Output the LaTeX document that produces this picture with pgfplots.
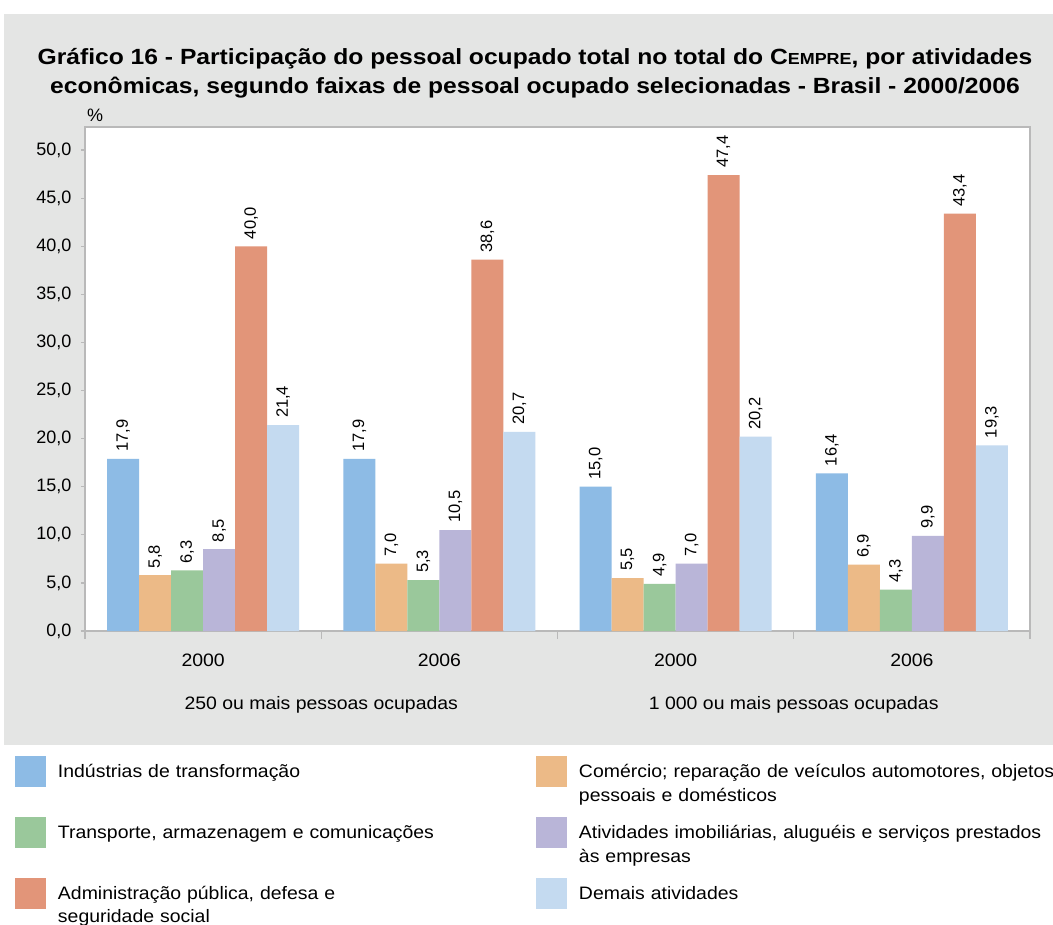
\documentclass[border=0pt]{standalone}
\usepackage{fontspec}
\setmainfont{Liberation Sans}
\newfontfamily\widefont{Liberation Sans}[FakeStretch=1.08]
\newfontfamily\titlefont{Liberation Sans}[FakeStretch=1.12]
\usepackage{pgfplots}
\pgfplotsset{compat=1.18}
\definecolor{cA}{RGB}{141,187,229}
\definecolor{cB}{RGB}{236,186,135}
\definecolor{cC}{RGB}{154,200,155}
\definecolor{cD}{RGB}{185,181,216}
\definecolor{cE}{RGB}{226,149,121}
\definecolor{cF}{RGB}{196,218,240}
\definecolor{bg}{RGB}{228,229,228}
\definecolor{axgray}{RGB}{185,185,185}
\begin{document}
\begin{tikzpicture}
\path[use as bounding box] (0pt,0pt) rectangle (1053pt,-925pt);
\fill[white] (0pt,0pt) rectangle (1053pt,-925pt);
\fill[bg] (4pt,-14pt) rectangle (1053pt,-745pt);
\node[align=center, font=\titlefont\fontsize{22}{29}\selectfont\bfseries, inner sep=0pt] at (535pt,-73pt)
 {Gráfico 16 - Participação do pessoal ocupado total no total do C{\fontsize{16}{29}\selectfont EMPRE}, por atividades\\
  econômicas, segundo faixas de pessoal ocupado selecionadas - Brasil - 2000/2006};
\begin{axis}[
  at={(85pt,-631pt)}, anchor=south west,
  scale only axis, width=945pt, height=504pt,
  axis background/.style={fill=white},
  xmin=-0.5, xmax=3.5, ymin=0, ymax=52.4,
  clip=false,
  ybar=0pt, bar width=32pt,
  axis line style={axgray, line width=1.3pt},
  tick style={axgray, line width=1.2pt},
  tick align=outside,
  ytick pos=left, xtick pos=bottom,
  ytick={0,5,...,50},
  major tick length=4pt,
  yticklabel={\pgfmathprintnumber[fixed,fixed zerofill,precision=1,use comma,assume math mode=true]{\tick}},
  yticklabel style={inner sep=0pt, xshift=-9.5pt},
  tick label style={font=\fontsize{18}{20}\selectfont, text=black},
  xtick=\empty,
  extra x ticks={-0.5,0.5,1.5,2.5,3.5},
  extra x tick labels={},
  extra x tick style={major tick length=8pt},
  nodes near coords={\pgfmathprintnumber[fixed,fixed zerofill,precision=1,use comma,assume math mode=true]{\pgfplotspointmeta}},
  every node near coord/.append style={rotate=90, anchor=west, inner xsep=7pt, inner ysep=0pt, font=\fontsize{16.5}{18}\selectfont, text=black},
  legend style={at={(-0.0741,-0.248)}, anchor=north west, draw=none, fill=none,
    inner sep=0pt, outer sep=0pt,
    legend columns=2, row sep=30pt, column sep=0pt,
    font=\widefont\fontsize{18}{24}\selectfont,
    /tikz/every odd column/.append style={column sep=10pt},
    /tikz/every even column/.append style={column sep=36pt},
    cells={anchor=base west, text width=440pt, align=left, inner sep=0pt},
  },
  legend image code/.code={\path[#1,draw=none] (0pt,-10pt) rectangle (31pt,21pt);},
]
\addplot[fill=cA, draw=none] coordinates {(0,17.9) (1,17.9) (2,15.0) (3,16.4)};
\addlegendentry{\mbox{Indústrias de transformação}}
\addplot[fill=cB, draw=none] coordinates {(0,5.8) (1,7.0) (2,5.5) (3,6.9)};
\addlegendentry{\mbox{Comércio; reparação de veículos automotores, objetos}\\\mbox{pessoais e domésticos}}
\addplot[fill=cC, draw=none] coordinates {(0,6.3) (1,5.3) (2,4.9) (3,4.3)};
\addlegendentry{\mbox{Transporte, armazenagem e comunicações}}
\addplot[fill=cD, draw=none] coordinates {(0,8.5) (1,10.5) (2,7.0) (3,9.9)};
\addlegendentry{\mbox{Atividades imobiliárias, aluguéis e serviços prestados}\\\mbox{às empresas}}
\addplot[fill=cE, draw=none] coordinates {(0,40.0) (1,38.6) (2,47.4) (3,43.4)};
\addlegendentry{\mbox{Administração pública, defesa e}\\\mbox{seguridade social}}
\addplot[fill=cF, draw=none] coordinates {(0,21.4) (1,20.7) (2,20.2) (3,19.3)};
\addlegendentry{\mbox{Demais atividades}}
\foreach \xx/\yy in {0/2000,1/2006,2/2000,3/2006}{
  \edef\temp{\noexpand\node[anchor=base, font=\noexpand\widefont\noexpand\fontsize{18}{20}\noexpand\selectfont] at (axis cs:\xx,0) [yshift=-35pt] {\yy};}
  \temp
}
\node[anchor=base, font=\widefont\fontsize{18}{20}\selectfont] at (axis cs:0.5,0) [yshift=-78pt] {250 ou mais pessoas ocupadas};
\node[anchor=base, font=\widefont\fontsize{18}{20}\selectfont] at (axis cs:2.5,0) [yshift=-78pt] {1~000 ou mais pessoas ocupadas};
\node[anchor=base west, font=\fontsize{18}{20}\selectfont, inner sep=0pt] at (rel axis cs:0,1) [xshift=2pt, yshift=5pt] {\%};
\end{axis}
\end{tikzpicture}
\end{document}
